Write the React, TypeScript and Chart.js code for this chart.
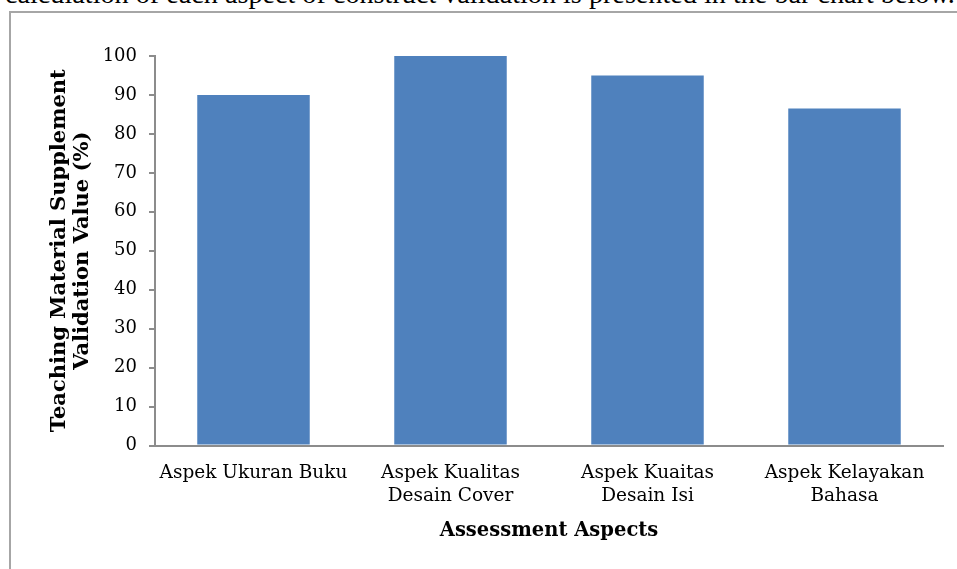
import React, { useEffect, useRef } from "react";
import { Chart, registerables } from "chart.js";

Chart.register(...registerables);

const categories: string[][] = [
  ["Aspek Ukuran Buku"],
  ["Aspek Kualitas", "Desain Cover"],
  ["Aspek Kuaitas", "Desain Isi"],
  ["Aspek Kelayakan", "Bahasa"],
];
const values: number[] = [90, 100, 95, 86.5];
const yTitle: string[] = ["Teaching Material Supplement", "Validation Value (%)"];
const xTitle = "Assessment Aspects";
const headerText =
  "calculation of each aspect of construct validation is presented in the bar chart below.";

const SERIF = "'DejaVu Serif', Georgia, serif";

export default function App() {
  const ref = useRef<HTMLCanvasElement | null>(null);

  useEffect(() => {
    if (!ref.current) return;
    const chart = new Chart(ref.current, {
      type: "bar",
      data: {
        labels: categories,
        datasets: [
          {
            data: values,
            backgroundColor: "#4F81BD",
            borderWidth: 0,
            barPercentage: 0.571,
            categoryPercentage: 1,
          },
        ],
      },
      options: {
        animation: false,
        responsive: false,
        devicePixelRatio: 1,
        layout: { padding: { left: 0, right: 14, top: 56, bottom: 20 } },
        plugins: { legend: { display: false }, tooltip: { enabled: false } },
        scales: {
          x: {
            grid: { display: false, drawTicks: false },
            border: { display: true, color: "#8c8c8c", width: 2 },
            ticks: {
              color: "#000",
              padding: 16,
              maxRotation: 0,
              autoSkip: false,
              font: { family: SERIF, size: 18.5, lineHeight: 1.25 },
            },
            title: {
              display: true,
              text: xTitle,
              color: "#000",
              font: { family: SERIF, size: 19.5, weight: "bold", lineHeight: 1.2 },
              padding: { top: 4, bottom: 6 },
            },
            afterFit: (s: any) => {
              s.height = 569 - 445.5 - 20;
            },
          },
          y: {
            min: 0,
            max: 100,
            ticks: {
              stepSize: 10,
              color: "#000",
              padding: 12,
              font: { family: SERIF, size: 18 },
            },
            grid: {
              display: true,
              drawOnChartArea: false,
              drawTicks: true,
              tickLength: 6,
              color: "#8c8c8c",
              lineWidth: 2,
            },
            border: { display: true, color: "#8c8c8c", width: 2 },
            title: {
              display: true,
              text: yTitle,
              color: "#000",
              font: { family: SERIF, size: 21, weight: "bold", lineHeight: 1.1 },
              padding: { top: 48, bottom: 0 },
            },
            afterFit: (s: any) => {
              s.width = 155;
            },
          },
        },
      },
    });
    return () => chart.destroy();
  }, []);

  return (
    <div
      style={{
        position: "absolute",
        left: 0,
        top: 0,
        width: 957,
        height: 569,
        overflow: "hidden",
        background: "#fff",
      }}
    >
      <div
        style={{
          position: "absolute",
          left: 5,
          top: -22.5,
          whiteSpace: "nowrap",
          fontFamily: "'Liberation Serif', 'Times New Roman', serif",
          fontSize: 28.2,
          color: "#000",
          lineHeight: "normal",
        }}
      >
        {headerText}
      </div>
      <div
        style={{
          position: "absolute",
          left: 9,
          top: 11,
          width: 1100,
          height: 700,
          borderLeft: "2px solid #a6a6a6",
          borderTop: "2px solid #a6a6a6",
        }}
      />
      <canvas
        ref={ref}
        width={957}
        height={569}
        style={{ position: "absolute", left: 0, top: 0, width: 957, height: 569 }}
      />
    </div>
  );
}
